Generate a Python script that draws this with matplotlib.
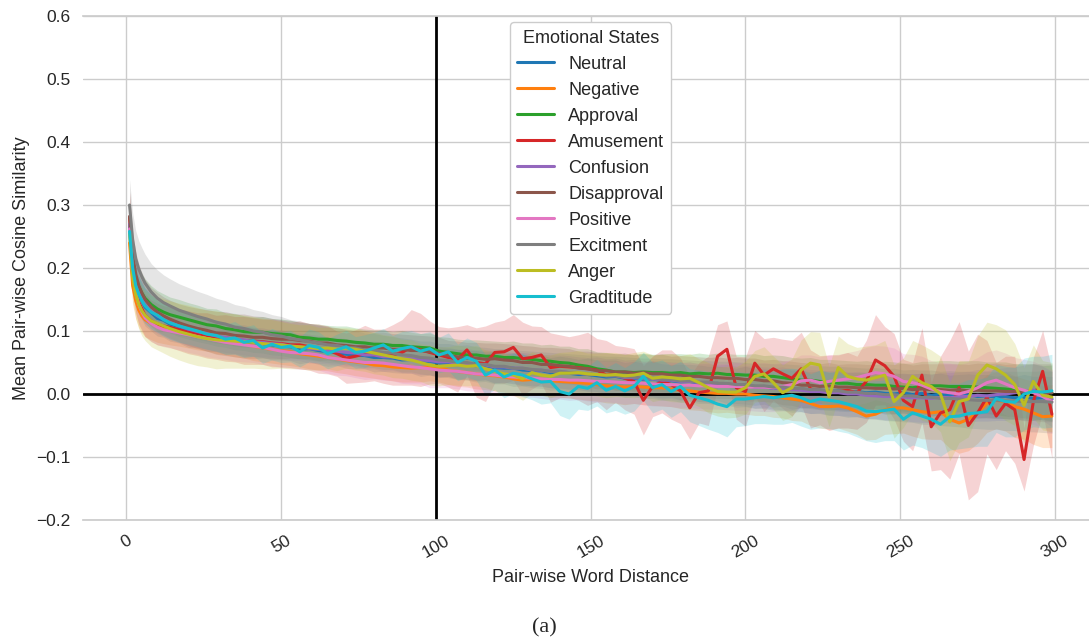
import numpy as np
import matplotlib
matplotlib.use("Agg")
import matplotlib.pyplot as plt
import seaborn as sns

# Word distances at which the pair-wise similarity was averaged
distance = [1, 2, 3, 4, 5, 6, 8, 10, 12, 14, 17, 20] + list(range(23, 300, 3))

# Mean pair-wise cosine similarity per emotional state
neutral = [.266, .204, .176, .157, .148, .138, .129, .120, .117, .111, .107, .100,
           .098, .094, .091, .088, .087, .083, .082, .080, .078, .076,
           .075, .071, .072, .069, .067, .066, .063, .062, .061, .058,
           .058, .057, .054, .055, .052, .052, .049, .050, .047, .046,
           .045, .045, .042, .041, .041, .038, .037, .037, .034, .034,
           .033, .031, .031, .029, .027, .028, .025, .025, .023, .024,
           .021, .021, .019, .020, .017, .016, .017, .014, .013, .014,
           .011, .012, .009, .010, .007, .008, .006, .006, .004, .005,
           .003, .004, .002, .003, .001, .000, .002, -.001, .001, -.002,
           .000, -.002, -.003, -.001, -.004, -.003, -.005, -.004, -.006, -.005,
           -.007, -.006, -.008]
negative = [.240, .172, .148, .133, .124, .118, .112, .108, .105, .103, .100, .097,
            .094, .091, .088, .085, .082, .079, .076, .073, .071, .069,
            .067, .064, .062, .060, .058, .056, .053, .051, .049, .046,
            .045, .043, .042, .041, .042, .043, .042, .038, .036, .034,
            .032, .030, .029, .027, .024, .022, .023, .024, .021, .020,
            .019, .018, .017, .015, .013, .012, .011, .012, .011, .010,
            .010, .008, .006, .005, .003, .002, .001, .001, .000, .000,
            -.002, -.003, -.004, -.006, -.008, -.010, -.015, -.020, -.020, -.019,
            -.022, -.028, -.035, -.032, -.025, -.022, -.022, -.025, -.028, -.030,
            -.028, -.040, -.046, -.040, -.030, -.015, -.010, -.012, -.020, -.024,
            -.030, -.036, -.035]
approval = [.268, .212, .185, .170, .160, .152, .142, .135, .130, .126, .122, .118,
            .114, .110, .108, .104, .102, .099, .098, .098, .096, .095,
            .094, .090, .089, .087, .087, .085, .084, .082, .081, .079,
            .079, .077, .077, .075, .074, .073, .068, .066, .064, .062,
            .062, .060, .060, .058, .058, .056, .055, .053, .052, .050,
            .049, .046, .044, .040, .038, .035, .035, .034, .035, .034,
            .034, .033, .034, .032, .033, .032, .033, .031, .031, .030,
            .030, .028, .028, .026, .024, .022, .022, .020, .019, .017,
            .017, .015, .015, .014, .014, .012, .011, .010, .012, .013,
            .013, .012, .012, .012, .011, .010, .009, .008, .006, .005,
            .004, .002, .002]
amusement = [.280, .205, .165, .145, .135, .125, .116, .111, .108, .106, .102, .098,
             .095, .093, .090, .089, .087, .085, .084, .083, .081, .080,
             .078, .078, .075, .072, .070, .064, .057, .060, .064, .062,
             .060, .062, .066, .074, .070, .066, .062, .058, .055, .070,
             .050, .048, .066, .067, .074, .056, .058, .062, .042, .044,
             .043, .042, .040, .038, .030, .032, .025, .020, -.010, .012,
             .020, .015, .005, -.022, .002, .005, .060, .071, .010, .004,
             .049, .030, .040, .032, .025, .040, .008, .006, .002, .004,
             .006, .002, .020, .054, .045, .028, -.010, -.020, .030, -.052,
             -.030, -.025, .010, -.050, -.030, -.005, -.035, -.015, -.025, -.104,
             -.012, .036, -.032]
confusion = [.270, .210, .179, .161, .150, .142, .131, .124, .119, .114, .108, .103,
             .099, .096, .092, .090, .087, .086, .083, .082, .080, .079,
             .076, .075, .072, .071, .069, .068, .066, .065, .062, .062,
             .059, .059, .056, .056, .054, .053, .051, .051, .048, .048,
             .046, .046, .043, .043, .041, .041, .038, .038, .036, .036,
             .034, .033, .031, .031, .029, .029, .026, .026, .024, .024,
             .022, .022, .020, .020, .018, .017, .015, .015, .013, .013,
             .011, .011, .009, .009, .007, .006, .004, .004, .002, .002,
             .000, .000, -.002, -.003, -.004, -.004, -.005, -.006, -.006, -.007,
             -.005, -.006, -.004, -.004, -.002, -.003, -.001, .000, .002, .004,
             .006, .001, -.008]
disapproval = [.282, .220, .190, .172, .160, .150, .138, .130, .124, .119, .113, .108,
               .104, .101, .097, .096, .093, .092, .090, .090, .088, .087,
               .087, .085, .084, .081, .081, .078, .077, .075, .075, .073,
               .073, .071, .071, .069, .069, .067, .065, .061, .059, .057,
               .057, .055, .056, .054, .053, .050, .050, .047, .047, .045,
               .044, .041, .040, .037, .037, .035, .035, .033, .034, .032,
               .032, .030, .030, .028, .028, .026, .026, .025, .025, .023,
               .023, .021, .021, .018, .017, .014, .014, .012, .013, .011,
               .011, .010, .010, .009, .009, .008, .009, .007, .008, .007,
               .007, .006, .007, .005, .006, .005, .005, .004, .004, .003,
               .003, .002, .002]
positive = [.262, .190, .160, .142, .130, .121, .112, .106, .102, .100, .097, .094,
            .091, .088, .085, .082, .080, .078, .076, .074, .071, .068,
            .066, .065, .064, .062, .058, .056, .054, .052, .050, .050,
            .049, .047, .045, .043, .042, .040, .038, .037, .036, .034,
            .032, .031, .030, .028, .027, .026, .025, .024, .023, .023,
            .022, .022, .021, .020, .020, .019, .018, .018, .017, .016,
            .015, .015, .014, .014, .013, .013, .012, .012, .012, .011,
            .011, .011, .010, .012, .015, .021, .022, .018, .020, .022,
            .024, .026, .030, .034, .032, .028, .020, .018, .014, .008,
            .004, .002, .000, .004, .010, .018, .022, .016, .010, .006,
            .002, -.004, -.012]
excitment = [.300, .245, .215, .198, .186, .176, .162, .152, .145, .140, .133, .128,
             .123, .119, .114, .111, .106, .104, .100, .098, .094, .092,
             .088, .086, .083, .081, .078, .077, .074, .073, .070, .069,
             .066, .065, .062, .061, .058, .057, .054, .053, .050, .050,
             .047, .047, .044, .044, .041, .041, .039, .038, .036, .036,
             .034, .033, .031, .031, .029, .029, .027, .027, .025, .025,
             .023, .023, .021, .021, .019, .019, .017, .017, .015, .015,
             .013, .013, .011, .011, .009, .009, .007, .007, .005, .005,
             .003, .003, .001, .001, -.001, -.001, -.003, -.003, -.005, -.005,
             -.007, -.007, -.008, -.009, -.010, -.010, -.010, -.011, -.011, -.012,
             -.012, -.012, -.013]
anger = [.255, .185, .158, .142, .132, .125, .116, .112, .108, .104, .099, .095,
         .091, .088, .086, .085, .084, .083, .082, .080, .079, .078,
         .076, .075, .074, .072, .073, .071, .073, .071, .068, .065,
         .062, .059, .056, .054, .050, .046, .044, .045, .046, .044,
         .045, .040, .036, .032, .030, .024, .034, .030, .028, .033,
         .033, .034, .032, .031, .030, .031, .029, .030, .033, .025,
         .027, .026, .024, .025, .018, .010, .004, .003, .003, .010,
         .028, .032, .018, .002, .010, .038, .049, .046, -.004, .042,
         .028, .024, .022, .026, .030, -.012, .002, .028, .018, .012,
         .000, -.044, -.012, -.008, .030, .046, .040, .030, .015, -.018,
         .020, -.002, -.005]
gratitude = [.258, .200, .172, .158, .148, .140, .130, .125, .118, .113, .108, .104,
             .100, .095, .093, .087, .089, .082, .085, .073, .079, .074,
             .076, .067, .077, .074, .064, .070, .075, .066, .068, .073,
             .078, .068, .072, .075, .068, .072, .062, .067, .050, .058,
             .052, .030, .038, .027, .033, .030, .024, .019, .020, .004,
             .000, .012, .009, .018, .006, .012, .005, .012, .028, .010,
             .015, .004, .012, -.002, -.006, -.010, -.016, -.020, -.008, -.008,
             -.006, -.004, -.006, -.004, -.002, -.006, -.012, -.008, -.010, -.012,
             -.016, -.020, -.027, -.028, -.026, -.024, -.040, -.030, -.035, -.040,
             -.048, -.036, -.035, -.031, -.030, -.028, -.007, -.012, -.013, .000,
             .004, .003, .005]

# Half-width of the confidence band around each mean
neutral_ci = [.035, .033, .032, .031, .030, .030, .029, .028, .027, .027, .026, .026,
              .025, .026, .024, .025, .023, .024, .023, .022, .024, .022,
              .022, .023, .021, .022, .023, .021, .022, .022, .021, .023,
              .022, .023, .021, .022, .024, .022, .023, .022, .024, .023,
              .024, .022, .025, .023, .024, .025, .023, .025, .024, .026,
              .025, .024, .026, .025, .027, .026, .025, .027, .026, .028,
              .027, .026, .028, .027, .029, .028, .027, .029, .028, .030,
              .029, .028, .030, .029, .031, .030, .029, .031, .030, .032,
              .031, .030, .032, .031, .033, .032, .031, .033, .032, .034,
              .033, .032, .034, .033, .035, .034, .033, .035, .034, .036,
              .035, .034, .036]
negative_ci = [.032, .030, .029, .028, .027, .027, .026, .026, .025, .025, .024, .024,
               .024, .023, .024, .023, .023, .022, .023, .022, .022, .022,
               .022, .021, .022, .022, .021, .022, .021, .022, .022, .021,
               .022, .022, .023, .022, .023, .022, .023, .023, .024, .023,
               .024, .023, .024, .024, .025, .024, .025, .025, .026, .025,
               .026, .026, .027, .026, .027, .027, .028, .027, .028, .028,
               .029, .028, .029, .030, .029, .030, .031, .030, .031, .032,
               .032, .031, .033, .032, .034, .033, .035, .034, .036, .035,
               .037, .036, .038, .040, .039, .041, .040, .042, .043, .042,
               .044, .046, .048, .050, .048, .046, .045, .047, .049, .048,
               .050, .049, .050]
approval_ci = [.036, .034, .033, .032, .031, .031, .030, .029, .029, .028, .028, .027,
               .027, .026, .027, .025, .026, .025, .024, .025, .024, .024,
               .023, .024, .023, .024, .022, .023, .024, .023, .022, .023,
               .023, .022, .024, .023, .022, .024, .023, .024, .023, .024,
               .024, .025, .024, .025, .026, .025, .026, .025, .027, .026,
               .027, .026, .028, .027, .028, .029, .028, .029, .030, .029,
               .030, .031, .030, .031, .032, .031, .032, .033, .032, .033,
               .034, .033, .034, .035, .034, .035, .036, .035, .036, .037,
               .036, .037, .038, .037, .038, .039, .038, .039, .040, .039,
               .040, .041, .040, .041, .042, .041, .042, .043, .042, .043,
               .044, .043, .044]
amusement_ci = [.040, .038, .036, .035, .034, .034, .033, .033, .032, .032, .033, .034,
                .034, .036, .035, .037, .036, .038, .037, .036, .038, .037,
                .036, .038, .037, .039, .038, .036, .040, .042, .045, .041,
                .043, .048, .052, .060, .058, .050, .045, .047, .052, .040,
                .055, .060, .048, .050, .052, .058, .050, .045, .055, .050,
                .048, .052, .058, .050, .055, .045, .050, .052, .055, .048,
                .050, .055, .052, .050, .048, .055, .050, .045, .050, .055,
                .052, .058, .050, .055, .060, .058, .062, .055, .060, .058,
                .060, .058, .065, .072, .062, .068, .065, .070, .075, .070,
                .090, .110, .105, .118, .125, .090, .085, .075, .085, .050,
                .070, .065, .070]
confusion_ci = [.034, .032, .031, .030, .030, .029, .028, .028, .027, .027, .026, .026,
                .025, .025, .024, .024, .023, .024, .023, .023, .022, .023,
                .022, .022, .023, .022, .021, .022, .022, .021, .022, .022,
                .023, .022, .022, .023, .023, .022, .024, .023, .023, .024,
                .024, .024, .025, .024, .025, .025, .026, .025, .026, .026,
                .027, .026, .027, .028, .027, .028, .028, .029, .028, .029,
                .030, .029, .030, .031, .030, .031, .031, .032, .031, .032,
                .033, .032, .033, .034, .033, .034, .035, .034, .035, .036,
                .035, .036, .037, .036, .037, .038, .037, .038, .039, .038,
                .039, .040, .039, .040, .041, .040, .041, .042, .041, .042,
                .042, .043, .044]
disapproval_ci = [.040, .037, .035, .034, .033, .032, .031, .031, .030, .030, .030, .031,
                  .032, .033, .034, .035, .034, .035, .034, .033, .032, .031,
                  .030, .029, .028, .028, .027, .027, .026, .026, .026, .025,
                  .025, .025, .024, .025, .024, .025, .025, .024, .025, .025,
                  .025, .026, .025, .026, .026, .027, .026, .027, .027, .028,
                  .028, .027, .028, .029, .028, .029, .030, .029, .030, .030,
                  .031, .030, .031, .032, .031, .032, .033, .032, .033, .034,
                  .034, .033, .034, .035, .035, .036, .035, .036, .037, .036,
                  .037, .038, .037, .038, .039, .039, .040, .039, .040, .041,
                  .041, .042, .041, .042, .043, .043, .044, .043, .044, .045,
                  .045, .046, .046]
positive_ci = [.034, .032, .031, .030, .029, .029, .028, .028, .027, .027, .027, .028,
               .028, .029, .028, .027, .028, .027, .026, .027, .026, .026,
               .025, .026, .025, .024, .025, .026, .025, .026, .027, .026,
               .027, .026, .028, .027, .026, .030, .028, .027, .028, .029,
               .028, .029, .030, .029, .030, .031, .030, .031, .032, .031,
               .032, .031, .032, .033, .032, .033, .034, .033, .034, .035,
               .034, .035, .036, .035, .036, .037, .036, .037, .038, .037,
               .038, .039, .038, .039, .040, .041, .040, .041, .042, .041,
               .042, .043, .044, .043, .044, .045, .044, .045, .046, .045,
               .046, .047, .046, .047, .048, .049, .048, .049, .048, .049,
               .050, .049, .050]
excitment_ci = [.040, .042, .044, .045, .046, .046, .045, .045, .044, .043, .042, .041,
                .040, .039, .038, .037, .036, .035, .034, .033, .032, .031,
                .030, .030, .029, .029, .028, .028, .028, .027, .027, .027,
                .027, .026, .027, .026, .026, .027, .026, .027, .027, .028,
                .028, .027, .028, .028, .029, .028, .029, .029, .030, .029,
                .030, .030, .031, .030, .031, .031, .032, .031, .032, .032,
                .033, .033, .034, .033, .034, .034, .035, .035, .036, .035,
                .036, .036, .037, .037, .038, .037, .038, .038, .039, .039,
                .040, .039, .040, .041, .041, .042, .041, .042, .043, .043,
                .043, .044, .044, .045, .045, .046, .046, .047, .047, .048,
                .048, .049, .049]
anger_ci = [.036, .037, .038, .039, .040, .040, .041, .042, .043, .044, .045, .046,
            .046, .045, .046, .044, .043, .042, .041, .040, .039, .037,
            .036, .035, .036, .034, .033, .034, .032, .033, .032, .033,
            .032, .033, .031, .032, .030, .032, .031, .030, .032, .031,
            .032, .030, .031, .033, .032, .034, .033, .032, .034, .033,
            .034, .035, .033, .034, .036, .035, .034, .036, .035, .037,
            .036, .038, .037, .039, .038, .040, .039, .041, .040, .042,
            .041, .043, .042, .044, .046, .048, .050, .052, .048, .050,
            .052, .050, .054, .052, .055, .058, .055, .057, .060, .058,
            .060, .062, .065, .060, .062, .068, .070, .072, .065, .060,
            .058, .055, .055]
gratitude_ci = [.030, .030, .029, .029, .028, .028, .027, .027, .026, .026, .026, .025,
                .025, .024, .025, .024, .026, .024, .025, .024, .025, .024,
                .025, .024, .026, .025, .024, .025, .026, .025, .026, .025,
                .026, .025, .027, .026, .028, .027, .028, .030, .029, .031,
                .030, .032, .031, .033, .032, .034, .033, .035, .034, .038,
                .040, .036, .035, .037, .036, .038, .037, .039, .038, .040,
                .039, .041, .040, .042, .044, .046, .045, .048, .044, .042,
                .041, .043, .042, .044, .043, .045, .044, .046, .045, .047,
                .046, .048, .047, .049, .048, .050, .049, .051, .050, .052,
                .051, .053, .052, .054, .053, .055, .054, .056, .055, .057,
                .056, .057, .058]

labels = ["Neutral", "Negative", "Approval", "Amusement", "Confusion",
          "Disapproval", "Positive", "Excitment", "Anger", "Gradtitude"]
means = [neutral, negative, approval, amusement, confusion,
         disapproval, positive, excitment, anger, gratitude]
bands = [neutral_ci, negative_ci, approval_ci, amusement_ci, confusion_ci,
         disapproval_ci, positive_ci, excitment_ci, anger_ci, gratitude_ci]

sns.set_theme(style="whitegrid")
plt.rcParams["font.family"] = ["Liberation Sans", "DejaVu Sans"]

fig = plt.figure(figsize=(10.89, 6.42), dpi=100)
ax = fig.add_axes([0.0766, 0.19, 0.9317, 0.7851])
ax.spines["left"].set_visible(False)
ax.spines["right"].set_visible(False)

ax.axhline(0, color="black", lw=2, zorder=1.5)
ax.axvline(100, color="black", lw=2, zorder=1.5)

palette = sns.color_palette("tab10", 10)
x = np.array(distance)
for label, mean, ci, color in zip(labels, means, bands, palette):
    m = np.array(mean)
    c = np.array(ci)
    ax.fill_between(x, m - c, m + c, color=color, alpha=0.2, lw=0)
    ax.plot(x, m, color=color, lw=2.2, label=label)

ax.set_ylim(-0.2, 0.6)
ax.set_xlabel("Pair-wise Word Distance", fontsize=13, labelpad=6)
ax.set_ylabel("Mean Pair-wise Cosine Similarity", fontsize=13)
ax.tick_params(axis="both", labelsize=12.5)
plt.setp(ax.get_xticklabels(), rotation=30)

leg = ax.legend(title="Emotional States", loc="upper center", fontsize=13,
                title_fontsize=13, framealpha=1, labelspacing=0.5,
                borderaxespad=0.35)

fig.text(0.5, 0.022, "(a)", ha="center", va="center",
         family=["Liberation Serif", "DejaVu Serif"], fontsize=16)

fig.savefig("out.png", dpi=100)
